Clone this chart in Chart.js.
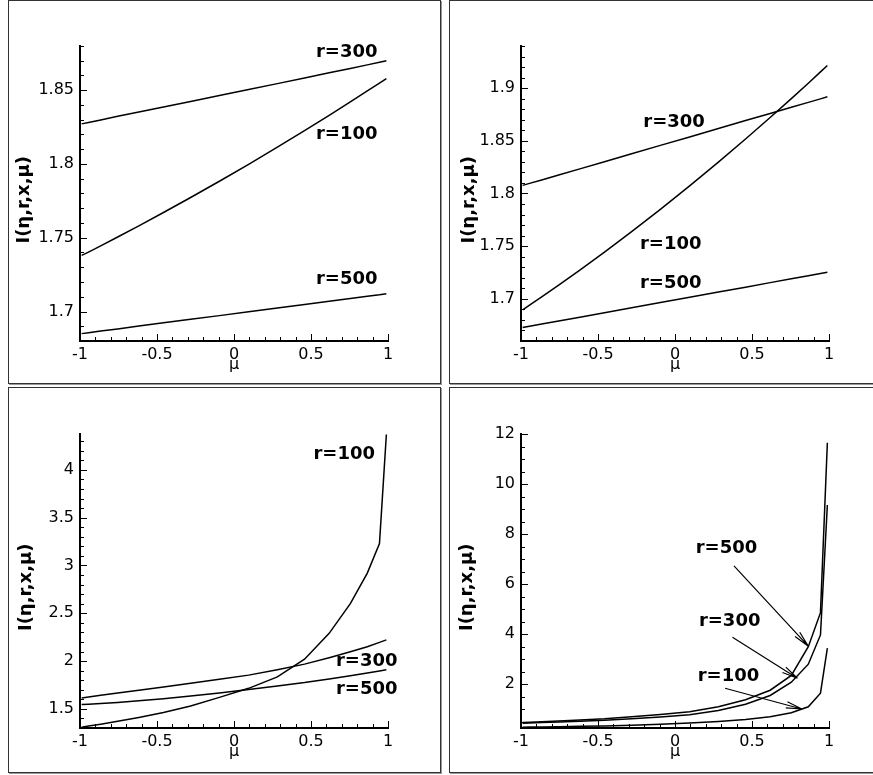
<!DOCTYPE html>
<html lang="en">
<head>
  <meta charset="UTF-8">
  <title>I(η,r,x,μ) panels</title>
  <script src="https://cdn.jsdelivr.net/npm/chart.js@4.4.0/dist/chart.umd.min.js"></script>
  <style>
    body { margin: 0; background: #fff; width: 873px; height: 775px; overflow: hidden; position: relative; }
    .frame { position: absolute; box-sizing: border-box; border: 1px solid #333; box-shadow: 1px 1px 0 #999; }
    canvas { position: absolute; }
  </style>
</head>
<body>
  <!-- panel frames -->
  <div class="frame" style="left:8px;top:0;width:433px;height:384px"></div>
  <div class="frame" style="left:449px;top:0;width:440px;height:384px"></div>
  <div class="frame" style="left:8px;top:387px;width:433px;height:386px"></div>
  <div class="frame" style="left:449px;top:387px;width:440px;height:386px"></div>

  <canvas id="c1"></canvas>
  <canvas id="c2"></canvas>
  <canvas id="c3"></canvas>
  <canvas id="c4"></canvas>

  <script>
    // quadrature points in mu used by every curve
    const MU = [-0.9894, -0.9446, -0.8656, -0.7554, -0.6179, -0.4580, -0.2816, -0.0950,
                 0.0950,  0.2816,  0.4580,  0.6179,  0.7554,  0.8656,  0.9446,  0.9894];

    // top left panel
    const A_R100 = [1.7380, 1.7403, 1.7445, 1.7505, 1.7581, 1.7671, 1.7773, 1.7883,
                    1.7998, 1.8114, 1.8226, 1.8330, 1.8421, 1.8495, 1.8548, 1.8579];
    const A_R300 = [1.8272, 1.8282, 1.8299, 1.8323, 1.8352, 1.8386, 1.8424, 1.8464,
                    1.8505, 1.8545, 1.8583, 1.8618, 1.8648, 1.8672, 1.8690, 1.8700];
    const A_R500 = [1.6850, 1.6856, 1.6867, 1.6882, 1.6901, 1.6923, 1.6947, 1.6972,
                    1.6998, 1.7023, 1.7047, 1.7069, 1.7088, 1.7103, 1.7113, 1.7120];

    // top right panel
    const B_R100 = [1.6895, 1.6940, 1.7018, 1.7130, 1.7273, 1.7444, 1.7638, 1.7850,
                    1.8072, 1.8298, 1.8517, 1.8721, 1.8901, 1.9047, 1.9154, 1.9215];
    const B_R300 = [1.8077, 1.8096, 1.8129, 1.8176, 1.8234, 1.8302, 1.8377, 1.8457,
                    1.8537, 1.8617, 1.8692, 1.8760, 1.8818, 1.8865, 1.8898, 1.8918];
    const B_R500 = [1.6728, 1.6740, 1.6761, 1.6790, 1.6826, 1.6869, 1.6915, 1.6965,
                    1.7015, 1.7065, 1.7111, 1.7154, 1.7190, 1.7219, 1.7240, 1.7252];

    // bottom left panel
    const C_R100 = [1.309, 1.320, 1.340, 1.370, 1.410, 1.462, 1.530, 1.620,
                    1.715, 1.835, 2.020, 2.290, 2.600, 2.920, 3.230, 4.370];
    const C_R300 = [1.615, 1.625, 1.642, 1.666, 1.695, 1.729, 1.768, 1.809,
                    1.853, 1.910, 1.968, 2.035, 2.097, 2.150, 2.196, 2.222];
    const C_R500 = [1.545, 1.548, 1.555, 1.567, 1.584, 1.607, 1.634, 1.666,
                    1.703, 1.740, 1.775, 1.813, 1.847, 1.876, 1.897, 1.910];

    // bottom right panel
    const D_R100 = [0.280, 0.285, 0.290, 0.300, 0.315, 0.330, 0.360, 0.400,
                    0.450, 0.510, 0.590, 0.700, 0.860, 1.100, 1.640, 3.440];
    const D_R300 = [0.440, 0.450, 0.470, 0.490, 0.520, 0.560, 0.620, 0.690,
                    0.780, 0.950, 1.200, 1.550, 2.080, 2.800, 3.970, 9.160];
    const D_R500 = [0.470, 0.480, 0.500, 0.530, 0.570, 0.620, 0.700, 0.790,
                    0.900, 1.100, 1.380, 1.760, 2.350, 3.500, 4.860, 11.650];

    // tick labels
    const X_TICKS = [-1, -0.5, 0, 0.5, 1];
    const X_TICK_LABELS = ['-1', '-0.5', '0', '0.5', '1'];
    const A_Y_TICKS = [1.7, 1.75, 1.8, 1.85];
    const A_Y_TICK_LABELS = ['1.7', '1.75', '1.8', '1.85'];
    const B_Y_TICKS = [1.7, 1.75, 1.8, 1.85, 1.9];
    const B_Y_TICK_LABELS = ['1.7', '1.75', '1.8', '1.85', '1.9'];
    const C_Y_TICKS = [1.5, 2, 2.5, 3, 3.5, 4];
    const C_Y_TICK_LABELS = ['1.5', '2', '2.5', '3', '3.5', '4'];
    const D_Y_TICKS = [2, 4, 6, 8, 10, 12];
    const D_Y_TICK_LABELS = ['2', '4', '6', '8', '10', '12'];

    const FONT = '"DejaVu Sans", "Liberation Sans", sans-serif';

    function minorTicks(min, max, step) {
      const out = [];
      const start = Math.ceil(min / step - 1e-6);
      for (let k = start; k * step <= max + 1e-9; k++) out.push(+(k * step).toFixed(6));
      return out;
    }

    // tick marks drawn inward, curve labels and arrows
    const decor = {
      id: 'decor',
      afterDraw(chart, args, o) {
        const { ctx, chartArea: ca, scales: { x, y } } = chart;
        ctx.save();
        ctx.strokeStyle = '#000';
        ctx.lineWidth = 1;
        ctx.beginPath();
        o.xMinor.forEach(v => {
          const px = Math.round(x.getPixelForValue(v)) + 0.5;
          const len = X_TICKS.some(t => Math.abs(t - v) < 1e-6) ? 7 : 4;
          ctx.moveTo(px, ca.bottom); ctx.lineTo(px, ca.bottom - len);
        });
        o.yMinor.forEach(v => {
          const py = Math.round(y.getPixelForValue(v)) + 0.5;
          const len = o.yTicks.some(t => Math.abs(t - v) < 1e-6) ? 7 : 4;
          ctx.moveTo(ca.left, py); ctx.lineTo(ca.left + len, py);
        });
        ctx.stroke();

        ctx.fillStyle = '#000';
        ctx.font = 'bold 18px ' + FONT;
        ctx.textAlign = 'center';
        ctx.textBaseline = 'middle';
        o.notes.forEach(n => ctx.fillText(n.text, x.getPixelForValue(n.mu), y.getPixelForValue(n.val)));

        ctx.lineWidth = 1.2;
        o.arrows.forEach(a => {
          const x0 = x.getPixelForValue(a.from[0]), y0 = y.getPixelForValue(a.from[1]);
          const x1 = x.getPixelForValue(a.to[0]), y1 = y.getPixelForValue(a.to[1]);
          const ang = Math.atan2(y1 - y0, x1 - x0);
          ctx.beginPath();
          ctx.moveTo(x0, y0); ctx.lineTo(x1, y1);
          [-0.2, 0.2].forEach(d => {
            ctx.moveTo(x1, y1);
            ctx.lineTo(x1 - 16 * Math.cos(ang + d), y1 - 16 * Math.sin(ang + d));
          });
          ctx.stroke();
        });
        ctx.restore();
      }
    };

    function drawPanel(p) {
      const cv = document.getElementById(p.id);
      cv.width = p.box.w; cv.height = p.box.h;
      cv.style.left = p.box.x + 'px'; cv.style.top = p.box.y + 'px';

      const yScaleWidth = p.plot.l - p.box.x;
      const xScaleHeight = p.box.y + p.box.h - p.plot.b;
      const series = [p.r100, p.r300, p.r500];

      new Chart(cv.getContext('2d'), {
        type: 'line',
        data: {
          datasets: series.map((vals, i) => ({
            label: ['r=100', 'r=300', 'r=500'][i],
            data: MU.map((m, k) => ({ x: m, y: vals[k] })),
            borderColor: '#000',
            borderWidth: 1.5,
            pointRadius: 0,
            tension: 0,
            fill: false
          }))
        },
        options: {
          responsive: false,
          animation: false,
          events: [],
          layout: { padding: { left: 0, top: p.plot.t - p.box.y, right: p.box.x + p.box.w - p.plot.r, bottom: 0 } },
          plugins: {
            legend: { display: false },
            tooltip: { enabled: false },
            decor: {
              xMinor: minorTicks(-1, 1, 0.1),
              yMinor: minorTicks(p.yMin, p.yMax, p.yMinorStep),
              yTicks: p.yTicks,
              notes: p.notes,
              arrows: p.arrows || []
            }
          },
          scales: {
            x: {
              type: 'linear', min: -1, max: 1,
              grid: { display: false, drawTicks: false },
              border: { display: true, color: '#000', width: 2 },
              afterBuildTicks: s => { s.ticks = X_TICKS.map(v => ({ value: v })); },
              afterFit: s => { s.height = xScaleHeight; },
              ticks: {
                color: '#000', padding: 4, maxRotation: 0, autoSkip: false,
                font: { family: FONT, size: 16 },
                callback: v => X_TICK_LABELS[X_TICKS.indexOf(v)]
              },
              title: {
                display: true, text: 'μ', color: '#000',
                font: { family: FONT, size: 16 },
                padding: { top: 0, bottom: xScaleHeight - 24 - 9.6 }
              }
            },
            y: {
              type: 'linear', min: p.yMin, max: p.yMax,
              grid: { display: false, drawTicks: false },
              border: { display: true, color: '#000', width: 2 },
              afterBuildTicks: s => { s.ticks = p.yTicks.map(v => ({ value: v })); },
              afterFit: s => { s.width = yScaleWidth; },
              ticks: {
                color: '#000', padding: 6, autoSkip: false,
                font: { family: FONT, size: 16 },
                callback: v => p.yLabels[p.yTicks.indexOf(v)]
              },
              title: {
                display: true, text: 'I(η,r,x,μ)\u00a0\u00a0', color: '#000',
                font: { family: FONT, size: 18, weight: 'bold' },
                padding: { top: p.titlePad, bottom: 0 }
              }
            }
          }
        },
        plugins: [decor]
      });
    }

    drawPanel({
      id: 'c1', box: { x: 9, y: 1, w: 430, h: 381 }, plot: { l: 80, r: 388, t: 46, b: 341 },
      yMin: 1.68, yMax: 1.88, yMinorStep: 0.01, yTicks: A_Y_TICKS, yLabels: A_Y_TICK_LABELS, titlePad: 5,
      r100: A_R100, r300: A_R300, r500: A_R500,
      notes: [
        { text: 'r=300', mu: 0.732, val: 1.8757 },
        { text: 'r=100', mu: 0.732, val: 1.8198 },
        { text: 'r=500', mu: 0.732, val: 1.7221 }
      ]
    });

    drawPanel({
      id: 'c2', box: { x: 450, y: 1, w: 423, h: 381 }, plot: { l: 521, r: 829, t: 46, b: 341 },
      yMin: 1.66, yMax: 1.94, yMinorStep: 0.01, yTicks: B_Y_TICKS, yLabels: B_Y_TICK_LABELS, titlePad: 9,
      r100: B_R100, r300: B_R300, r500: B_R500,
      notes: [
        { text: 'r=300', mu: -0.006, val: 1.8674 },
        { text: 'r=100', mu: -0.028, val: 1.7522 },
        { text: 'r=500', mu: -0.028, val: 1.7152 }
      ]
    });

    drawPanel({
      id: 'c3', box: { x: 9, y: 388, w: 430, h: 383 }, plot: { l: 80, r: 388, t: 434, b: 728 },
      yMin: 1.3, yMax: 4.375, yMinorStep: 0.1, yTicks: C_Y_TICKS, yLabels: C_Y_TICK_LABELS, titlePad: 7,
      r100: C_R100, r300: C_R300, r500: C_R500,
      notes: [
        { text: 'r=100', mu: 0.716, val: 4.167 },
        { text: 'r=300', mu: 0.862, val: 2.0 },
        { text: 'r=500', mu: 0.862, val: 1.708 }
      ]
    });

    drawPanel({
      id: 'c4', box: { x: 450, y: 388, w: 423, h: 383 }, plot: { l: 521, r: 829, t: 434, b: 728 },
      yMin: 0.25, yMax: 12, yMinorStep: 0.5, yTicks: D_Y_TICKS, yLabels: D_Y_TICK_LABELS, titlePad: 7,
      r100: D_R100, r300: D_R300, r500: D_R500,
      notes: [
        { text: 'r=500', mu: 0.334, val: 7.43 },
        { text: 'r=300', mu: 0.355, val: 4.50 },
        { text: 'r=100', mu: 0.347, val: 2.30 }
      ],
      arrows: [
        { from: [0.383, 6.73], to: [0.864, 3.53] },
        { from: [0.373, 3.88], to: [0.795, 2.24] },
        { from: [0.325, 1.84], to: [0.823, 1.01] }
      ]
    });
  </script>
</body>
</html>
